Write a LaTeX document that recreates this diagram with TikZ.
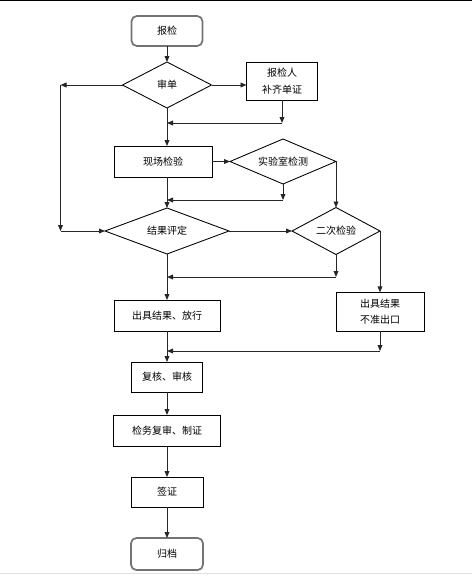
\documentclass[tikz,border=0pt]{standalone}
\usepackage{fontspec}
\newfontfamily\cjk{Noto Sans CJK SC}
\usetikzlibrary{calc,positioning,shapes.geometric,arrows.meta}

\begin{document}
\begin{tikzpicture}[
  >={Triangle[length=4.5pt,width=3.6pt]},
  every node/.style={align=center,inner sep=0pt,outer sep=0pt,font=\cjk\fontsize{7.5}{12.5}\selectfont},
  proc/.style={draw,rectangle,line width=0.65pt,fill=white},
  term/.style={draw=black!55,rectangle,rounded corners=4pt,line width=1.3pt,minimum width=53.25pt,minimum height=22.5pt},
  cond/.style={draw,diamond,aspect=2,line width=0.65pt},
  flow/.style={->,line width=0.7pt,black!85}
]
\useasboundingbox (0,0) rectangle (354pt,-433.5pt);
\draw[line width=1.1pt] (0,-0.55pt) -- (354pt,-0.55pt);
\draw[black!12,line width=0.75pt] (0,-430pt) -- (354pt,-430pt);

\node[term] (bj) at (125.25pt,-23.25pt) {报检};
\node[cond,minimum width=66.75pt,minimum height=34.5pt,below=12pt of bj] (sd) {审单};
\node[proc,minimum width=53.25pt,minimum height=28.5pt,right=26.25pt of sd,yshift=3pt] (bc) {报检人\\补齐单证};
\node[proc,minimum width=73.5pt,minimum height=23.25pt,below=28.5pt of sd,xshift=-3pt] (xc) {现场检验};
\node[cond,minimum width=79.5pt,minimum height=33.75pt,right=13.5pt of xc] (sy) {实验室检测};
\node[cond,minimum width=93pt,minimum height=34.5pt,below=23.25pt of xc,xshift=3pt] (jg) {结果评定};
\node[cond,minimum width=66pt,minimum height=35.25pt,right=47.25pt of jg] (ec) {二次检验};
\node[proc,minimum width=79.5pt,minimum height=23.25pt,below=34.5pt of jg] (fx) {出具结果、放行};
\node[proc,minimum width=66pt,minimum height=29.25pt,below=46pt of ec.east] (bz) {出具结果\\不准出口};
\node[proc,minimum width=53.25pt,minimum height=22.5pt,below=23.25pt of fx] (fh) {复核、审核};
\node[proc,minimum width=80.25pt,minimum height=23.25pt,below=17.25pt of fh] (jw) {检务复审、制证};
\node[proc,minimum width=54pt,minimum height=22.5pt,below=23.25pt of jw] (qz) {签证};
\node[term,minimum width=54pt,minimum height=24pt,below=23.25pt of qz] (gd) {归档};

\coordinate (j1) at ([yshift=-11.25pt]sd.south);
\coordinate (r1) at (bc.south |- j1);
\coordinate (l1) at ([xshift=-46.5pt]sd.west);
\coordinate (l2) at (l1 |- jg.west);
\coordinate (j2) at ([yshift=6pt]jg.north);
\coordinate (r2) at (sy.south |- j2);
\coordinate (j3) at ([yshift=-17.25pt]jg.south);
\coordinate (r3) at (ec.south |- j3);
\coordinate (j4) at ([yshift=-15pt]fx.south);
\coordinate (r4) at (bz.south |- j4);

\draw[flow] (bj) -- (sd);
\draw[flow] (sd) -- (sd -| bc.west);
\draw[flow] (bc) -- (r1);
\draw[flow] (r1) -- (j1);
\draw[flow] (sd.south) -- (sd.south |- xc.north);
\draw[flow] (sd.west) -- (l1);
\draw[flow] (l1) -- (l2);
\draw[flow] (l2) -- (jg.west);
\draw[flow] (xc) -- (sy);
\draw[flow] (sy) -- (r2);
\draw[flow] (r2) -- (j2);
\draw[flow] (sy.east) -- (sy.east |- ec.north);
\draw[flow] (jg.north |- xc.south) -- (jg.north);
\draw[flow] (jg) -- (ec);
\draw[flow] (ec) -- (r3);
\draw[flow] (r3) -- (j3);
\draw[flow] (ec.east) -- (bz.north);
\draw[flow] (jg) -- (fx);
\draw[flow] (bz) -- (r4);
\draw[flow] (r4) -- (j4);
\draw[flow] (fx) -- (fh);
\draw[flow] (fh) -- (jw);
\draw[flow] (jw) -- (qz);
\draw[flow] (qz) -- (gd);
\end{tikzpicture}
\end{document}
